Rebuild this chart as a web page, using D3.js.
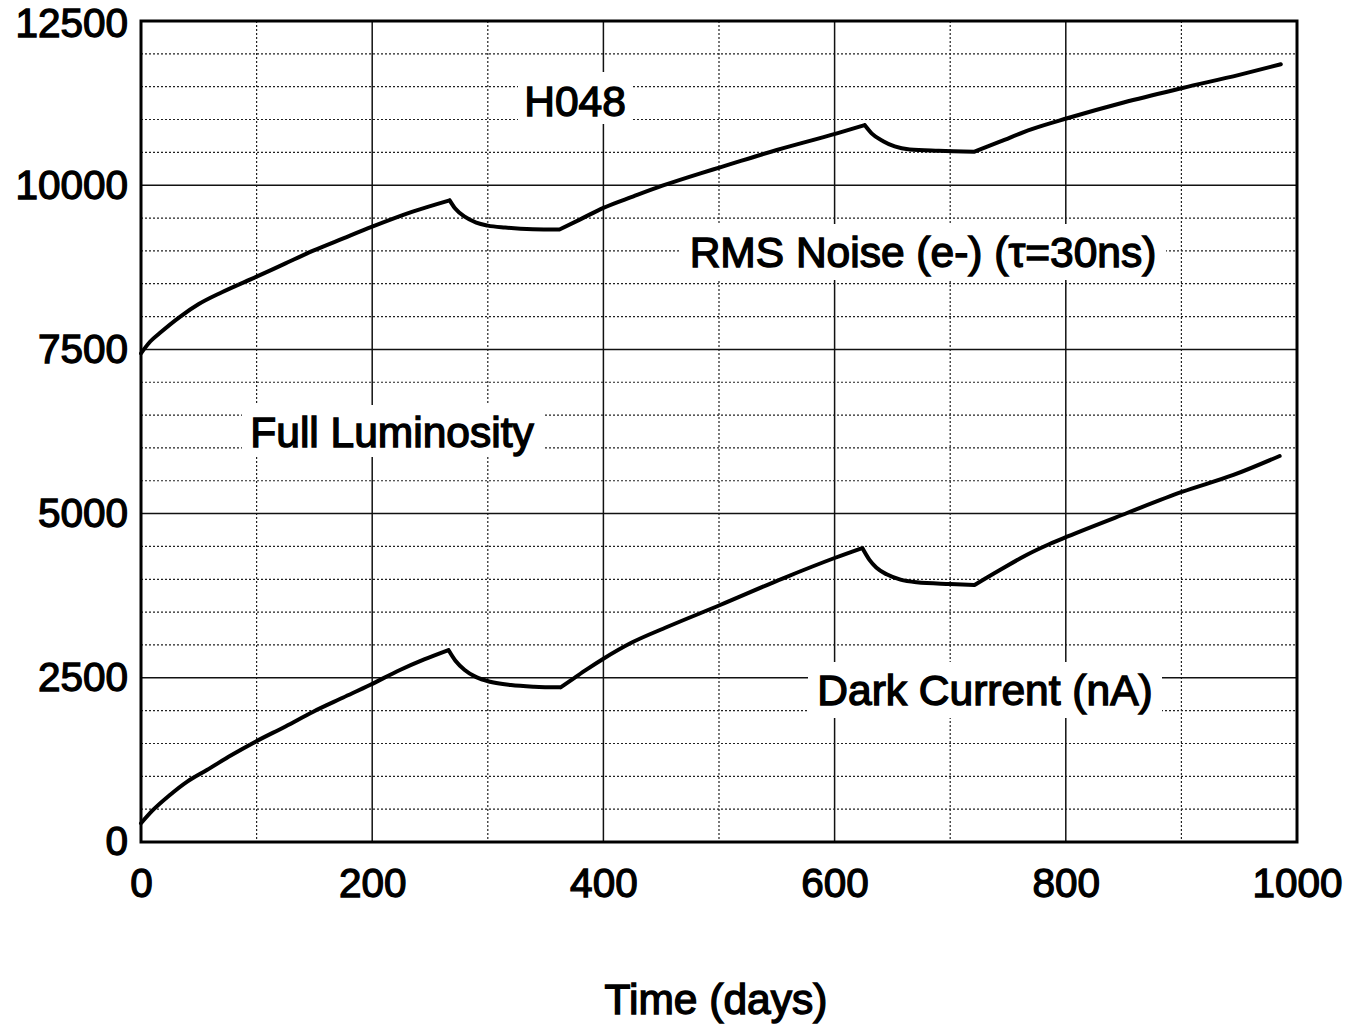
<!DOCTYPE html>
<html><head><meta charset="utf-8">
<script src="https://cdn.jsdelivr.net/npm/d3@7"></script>
<style>
html,body{margin:0;padding:0;background:#fff;}
svg{display:block;}
text{font-family:"Liberation Sans",Arial,Helvetica,sans-serif;fill:#000;}
</style></head>
<body>
<svg id="chart" width="1351" height="1028"></svg>
<script>
// ---- data ----
const noiseDays = [0, 8, 16, 34, 50, 70, 100, 125, 149, 175, 200, 235, 267, 272, 280, 290, 300, 315, 339, 362, 380, 400, 426, 451, 484, 501, 550, 602, 626, 632, 642, 652, 665, 690, 721, 743, 770, 802, 850, 901, 950, 986];
const noiseValues = [7440, 7620, 7745, 8000, 8190, 8370, 8607, 8810, 9003, 9190, 9368, 9597, 9770, 9640, 9520, 9430, 9385, 9355, 9330, 9325, 9480, 9655, 9830, 9992, 10181, 10272, 10536, 10790, 10916, 10790, 10670, 10590, 10545, 10525, 10510, 10662, 10850, 11023, 11260, 11480, 11680, 11841];
const noiseBreaks = [267, 362, 626, 721];

const darkDays = [0, 10, 25, 40, 57, 78, 99, 125, 149, 175, 198, 224, 245, 266, 272, 280, 290, 302, 320, 340, 363, 375, 385, 400, 425, 455, 501, 556, 600, 624, 630, 636, 645, 657, 671, 700, 721, 743, 766, 786, 801, 853, 901, 945, 985];
const darkValues = [285, 480, 716, 920, 1096, 1320, 1527, 1760, 1984, 2200, 2390, 2619, 2780, 2923, 2760, 2620, 2510, 2440, 2390, 2365, 2355, 2500, 2620, 2790, 3040, 3273, 3608, 4019, 4324, 4476, 4300, 4180, 4075, 3995, 3955, 3928, 3913, 4141, 4370, 4537, 4648, 5009, 5333, 5588, 5877];
const darkBreaks = [266, 363, 624, 721];

const yTickLabels = [0, 2500, 5000, 7500, 10000, 12500];
const xTickLabels = [0, 200, 400, 600, 800, 1000];
const yMinorGrid = d3.range(500, 12500, 500);
const xMinorGrid = [100, 300, 500, 700, 900];

const xTitle = "Time (days)";
const labels = [
  {text: "H048", x: 575, y: 101, box: [518, 72, 114, 52]},
  {text: "RMS Noise (e-) (τ=30ns)", x: 923, y: 252, box: [680, 224, 486, 56]},
  {text: "Full Luminosity", x: 392, y: 432, box: [242, 405, 302, 52]},
  {text: "Dark Current (nA)", x: 985, y: 690, box: [808, 662, 354, 56]}
];

// ---- layout ----
const svg = d3.select("#chart");
const m = {left: 141, top: 21, right: 54, bottom: 186};
const W = 1351 - m.left - m.right, H = 1028 - m.top - m.bottom;
const x = d3.scaleLinear().domain([0, 1000]).range([0, W]);
const y = d3.scaleLinear().domain([0, 12500]).range([H, 0]);
const g = svg.append("g").attr("transform", `translate(${m.left},${m.top})`);

// minor dotted grid
g.append("g").selectAll("line").data(yMinorGrid.filter(v => v % 2500 !== 0)).join("line")
  .attr("x1", 0).attr("x2", W).attr("y1", d => y(d)).attr("y2", d => y(d))
  .attr("stroke", "#222").attr("stroke-width", 1.2).attr("stroke-dasharray", "2,2");
g.append("g").selectAll("line").data(xMinorGrid).join("line")
  .attr("y1", 0).attr("y2", H).attr("x1", d => x(d)).attr("x2", d => x(d))
  .attr("stroke", "#222").attr("stroke-width", 1.2).attr("stroke-dasharray", "2,2");
// major solid grid
g.append("g").selectAll("line").data(yTickLabels.slice(1, -1)).join("line")
  .attr("x1", 0).attr("x2", W).attr("y1", d => y(d)).attr("y2", d => y(d))
  .attr("stroke", "#111").attr("stroke-width", 1.5);
g.append("g").selectAll("line").data(xTickLabels.slice(1, -1)).join("line")
  .attr("y1", 0).attr("y2", H).attr("x1", d => x(d)).attr("x2", d => x(d))
  .attr("stroke", "#111").attr("stroke-width", 1.5);

// label background boxes
svg.append("g").selectAll("rect").data(labels).join("rect")
  .attr("x", d => d.box[0]).attr("y", d => d.box[1]).attr("width", d => d.box[2]).attr("height", d => d.box[3])
  .attr("fill", "#fff");

// curves: smooth segments joined at the sharp kinks
const seg = d3.line().x(d => x(d[0])).y(d => y(d[1])).curve(d3.curveMonotoneX);
function pathFor(days, vals, breaks) {
  const pts = days.map((d, i) => [d, vals[i]]);
  const parts = [];
  let cur = [];
  pts.forEach(p => {
    cur.push(p);
    if (breaks.includes(p[0])) { parts.push(cur); cur = [p]; }
  });
  if (cur.length > 1) parts.push(cur);
  return parts.map(p => seg(p)).join("");
}
[[noiseDays, noiseValues, noiseBreaks], [darkDays, darkValues, darkBreaks]].forEach(s => {
  g.append("path").attr("d", pathFor(...s)).attr("fill", "none")
    .attr("stroke", "#000").attr("stroke-width", 4).attr("stroke-linejoin", "round").attr("stroke-linecap", "round");
});

// frame
g.append("rect").attr("x", 0).attr("y", 0).attr("width", W).attr("height", H)
  .attr("fill", "none").attr("stroke", "#000").attr("stroke-width", 3);

// axes
const yAxis = d3.axisLeft(y).tickValues(yTickLabels).tickSize(0).tickPadding(13).tickFormat(d3.format("d"));
const xAxis = d3.axisBottom(x).tickValues(xTickLabels).tickSize(0).tickPadding(26).tickFormat(d3.format("d"));
const ya = g.append("g").call(yAxis);
const xa = g.append("g").attr("transform", `translate(0,${H})`).call(xAxis);
[ya, xa].forEach(a => {
  a.select(".domain").remove();
  a.selectAll("text").attr("font-size", 40.5).attr("font-family", "Liberation Sans, Arial, sans-serif")
    .attr("stroke", "#000").attr("stroke-width", 1.3).attr("fill", "#000");
});
ya.selectAll(".tick").filter(d => d === 12500).select("text").attr("dy", "0.37em");

// axis title
svg.append("text").attr("x", 716).attr("y", 1014).attr("text-anchor", "middle")
  .attr("font-size", 42.5).attr("stroke", "#000").attr("stroke-width", 1.4).text(xTitle);

// annotations
svg.append("g").selectAll("text").data(labels).join("text")
  .attr("x", d => d.x).attr("y", d => d.y).attr("text-anchor", "middle").attr("dominant-baseline", "central")
  .attr("font-size", 42.5).attr("stroke", "#000").attr("stroke-width", 1.4).text(d => d.text);
</script>
</body></html>
